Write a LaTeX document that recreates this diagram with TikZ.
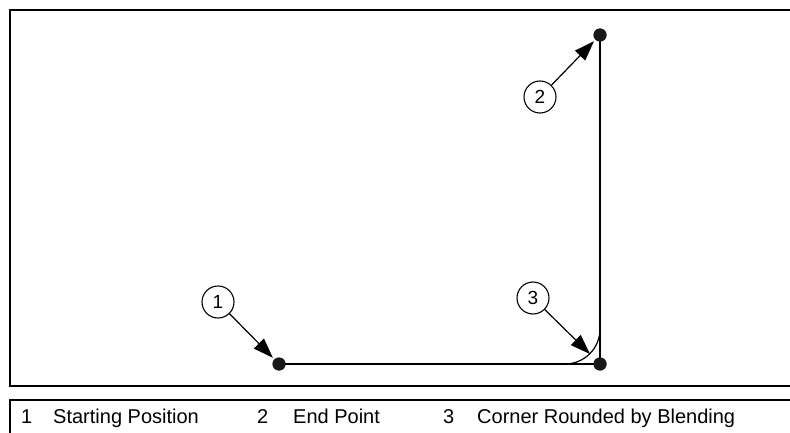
\documentclass[tikz,border=0pt]{standalone}
\usepackage{fontspec}
\setmainfont{Liberation Sans}
\usetikzlibrary{arrows.meta}

\begin{document}
\begin{tikzpicture}[
  x=1pt,y=-1pt,
  frame/.style={line width=2pt},
  track/.style={line width=1.2pt},
  dot/.style={circle,fill=black!90,minimum size=13pt,inner sep=0pt},
  callout/.style={circle,draw,line width=1.1pt,minimum size=32pt,inner sep=0pt,font=\fontsize{19}{22}\selectfont},
  pointer/.style={line width=1.2pt,-{Triangle[length=20pt,width=14pt]}},
  legend/.style={anchor=base west,inner sep=0pt,font=\fontsize{20}{24}\selectfont}
]
\useasboundingbox (0,0) rectangle (790,433);

% frames
\draw[frame] (790,10) -- (10,10) -- (10,386) -- (790,386);
\draw[frame] (790,400) -- (10,400) -- (10,433);

% move path
\node[dot] (start) at (279,364) {};
\node[dot] (corner) at (600,364) {};
\node[dot] (end) at (600,35) {};
\coordinate (blend) at (590,354);
\draw[track] (start.center) -- (corner.center) -- (end.center);
\draw[track] (565,364) .. controls (584.3,364) and (600,348.3) .. (600,329);
\node[dot] at (start) {};
\node[dot] at (corner) {};
\node[dot] at (end) {};

% callouts
\node[callout] (c1) at (218,302) {1};
\node[callout] (c2) at (540,97) {2};
\node[callout] (c3) at (533,298) {3};
\draw[pointer,shorten >=2pt] (c1) -- (start);
\draw[pointer,shorten >=2pt] (c2) -- (end);
\draw[pointer] (c3) -- (blend);

% legend
\node[legend] (n1) at (21,423) {1};
\node[legend] (t1) at (53,423) {Starting Position};
\node[legend] (n2) at (257,423) {2};
\node[legend] (t2) at (293,423) {End Point};
\node[legend] (n3) at (443,423) {3};
\node[legend] (t3) at (477,423) {Corner Rounded by Blending};
\end{tikzpicture}
\end{document}
